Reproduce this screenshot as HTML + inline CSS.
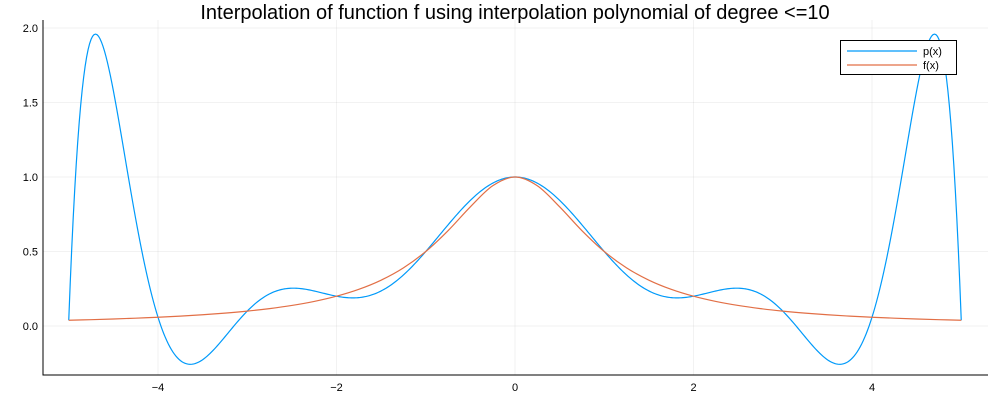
<!DOCTYPE html>
<html><head><meta charset="utf-8"><style>
body{margin:0;background:#fff}
svg{font-family:"Liberation Sans",sans-serif}
</style></head><body>
<svg id="c" width="1000" height="400"></svg>
<script>
// interpolation nodes (equispaced) and sampled function values
const nodeX = [-5,-4,-3,-2,-1,0,1,2,3,4,5];
const nodeY = [0.0385,0.0588,0.1,0.2,0.5,1,0.5,0.2,0.1,0.0588,0.0385];
const fX = [-5,-4.75,-4.5,-4.25,-4,-3.75,-3.5,-3.25,-3,-2.75,-2.5,-2.25,-2,-1.75,-1.5,-1.25,-1,-0.75,-0.5,-0.25,0,0.25,0.5,0.75,1,1.25,1.5,1.75,2,2.25,2.5,2.75,3,3.25,3.5,3.75,4,4.25,4.5,4.75,5];
const fY = [0.0385,0.0425,0.0471,0.0525,0.0588,0.0664,0.0755,0.0865,0.1,0.1168,0.1379,0.1649,0.2,0.2462,0.3077,0.3902,0.5,0.64,0.8,0.9412,1,0.9412,0.8,0.64,0.5,0.3902,0.3077,0.2462,0.2,0.1649,0.1379,0.1168,0.1,0.0865,0.0755,0.0664,0.0588,0.0525,0.0471,0.0425,0.0385];
const xTicks = [-4,-2,0,2,4];
const yTicks = [0,0.5,1,1.5,2];
const yTickLabels = ["0.0","0.5","1.0","1.5","2.0"];

const NS="http://www.w3.org/2000/svg", svg=document.getElementById('c');
const L=43,R=988,T=20,B=375;
const sx=x=>515+x*89.25, sy=y=>326-y*149;
function mk(tag,attrs,parent){const e=document.createElementNS(NS,tag);for(const k in attrs)e.setAttribute(k,attrs[k]);(parent||svg).appendChild(e);return e;}

xTicks.forEach(v=>{
  const g=mk('line',{x1:sx(v),x2:sx(v),y1:T,y2:B,stroke:'#000','stroke-opacity':0.1,'stroke-width':0.5});
  
  
  const t=mk('text',{x:sx(v),y:B+16,'font-size':11,'text-anchor':'middle',fill:'#000'});
  t.textContent=(v<0?'\u2212'+(-v):v);
  
  
});
yTicks.forEach((v,i)=>{
  const g=mk('line',{x1:L,x2:R,y1:sy(v),y2:sy(v),stroke:'#000','stroke-opacity':0.1,'stroke-width':0.5});
  
  
  const t=mk('text',{x:L-5,y:sy(v)+4,'font-size':11,'text-anchor':'end',fill:'#000'});
  t.textContent=yTickLabels[i];
  
  
});
const ax=mk('path',{d:`M${L},${T}V${B}H${R}`,fill:'none',stroke:'#000','stroke-width':1});



// p(x): Lagrange polynomial through node data
function P(x){let s=0;for(let i=0;i<nodeX.length;i++){let l=1;for(let j=0;j<nodeX.length;j++)if(j!==i)l*=(x-nodeX[j])/(nodeX[i]-nodeX[j]);s+=nodeY[i]*l;}return s;}
let d='';const x0=nodeX[0],x1=nodeX[nodeX.length-1];
for(let k=0;k<=600;k++){const x=x0+(x1-x0)*k/600;d+=(k?'L':'M')+sx(x).toFixed(2)+','+sy(P(x)).toFixed(2);}
const pl=mk('path',{d,fill:'none',stroke:'#009AFA','stroke-width':1.2});


// f(x) smooth (Catmull-Rom) through samples
const pts=fX.map((x,i)=>[sx(x),sy(fY[i])]);
let d2='M'+pts[0][0]+','+pts[0][1];
for(let i=0;i<pts.length-1;i++){
  const p0=pts[Math.max(i-1,0)],p1=pts[i],p2=pts[i+1],p3=pts[Math.min(i+2,pts.length-1)];
  const c1=[p1[0]+(p2[0]-p0[0])/6,p1[1]+(p2[1]-p0[1])/6];
  const c2=[p2[0]-(p3[0]-p1[0])/6,p2[1]-(p3[1]-p1[1])/6];
  d2+=`C${c1[0].toFixed(2)},${c1[1].toFixed(2)} ${c2[0].toFixed(2)},${c2[1].toFixed(2)} ${p2[0].toFixed(2)},${p2[1].toFixed(2)}`;
}
const fl=mk('path',{d:d2,fill:'none',stroke:'#E26F46','stroke-width':1.2});



const title=mk('text',{x:515,y:19,'font-size':20,'text-anchor':'middle',fill:'#000'});
title.textContent='Interpolation of function f using interpolation polynomial of degree <=10';



const lg=mk('g',{});


mk('rect',{x:840.5,y:40.5,width:116,height:34,fill:'#fff',stroke:'#000','stroke-width':1},lg);
[['p(x)','#009AFA',51],['f(x)','#E26F46',65]].forEach(([n,c,y])=>{
  const e=mk('g',{},lg);
  
  
  mk('line',{x1:847,x2:917,y1:y,y2:y,stroke:c,'stroke-width':1.2},e);
  const t=mk('text',{x:923,y:y+4,'font-size':11,fill:'#000'},e);t.textContent=n;
});
</script>
</body></html>
